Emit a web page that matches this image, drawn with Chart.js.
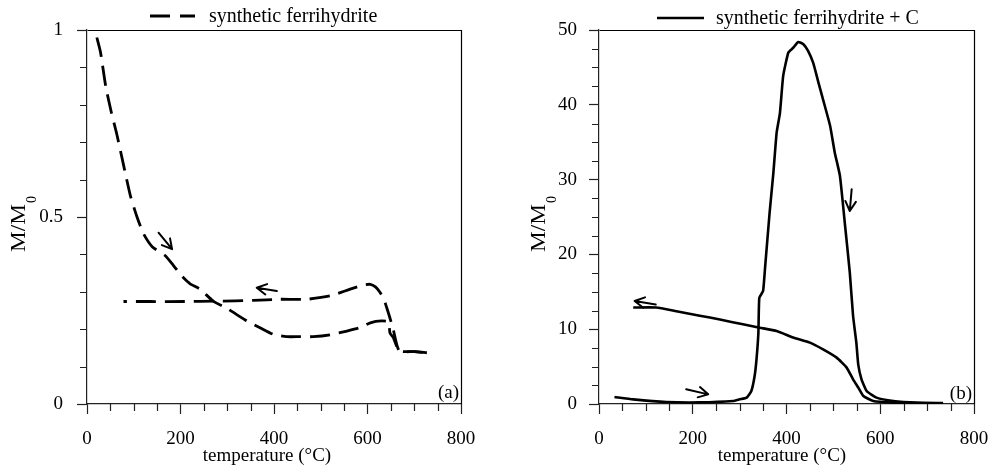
<!DOCTYPE html>
<html><head><meta charset="utf-8">
<script src="https://cdn.jsdelivr.net/npm/chart.js@4.4.1/dist/chart.umd.min.js"></script>
<style>
html,body{margin:0;padding:0;background:#fff;}
#wrap{position:relative;width:990px;height:474px;overflow:hidden;background:#fff;}
.panel{position:absolute;top:0;width:495px;height:474px;}
canvas{display:block;}
</style></head><body>
<div id="wrap">
<div class="panel" style="left:0"><canvas id="ca" width="495" height="474"></canvas></div>
<div class="panel" style="left:495px"><canvas id="cb" width="495" height="474"></canvas></div>
</div>
<script>
// ---------- data: panel (a) synthetic ferrihydrite ----------
const aHeatX = [21, 29, 40, 52, 64, 78, 93, 107, 121, 140, 167, 185, 203, 220, 242, 270, 300, 342, 370, 399, 427, 456, 484, 520, 556, 584, 606, 630, 645, 648, 655, 668, 700, 727];
const aHeatY = [0.98, 0.94, 0.85, 0.78, 0.72, 0.64, 0.556, 0.50, 0.455, 0.42, 0.397, 0.37, 0.342, 0.322, 0.307, 0.275, 0.255, 0.222, 0.204, 0.186, 0.18, 0.18, 0.18, 0.185, 0.195, 0.204, 0.217, 0.222, 0.219, 0.19, 0.178, 0.142, 0.14, 0.137];
const aCoolX = [727, 700, 668, 655, 648, 641, 635, 627, 617, 606, 590, 563, 520, 470, 413, 356, 278, 207, 135, 78];
const aCoolY = [0.137, 0.14, 0.142, 0.2, 0.23, 0.258, 0.28, 0.298, 0.313, 0.32, 0.318, 0.307, 0.289, 0.28, 0.28, 0.277, 0.275, 0.274, 0.274, 0.274];
const aArrowTailX = [153, 406];
const aArrowTailY = [0.458, 0.302];
const aArrowHeadX = [182, 363];
const aArrowHeadY = [0.414, 0.311];

// ---------- data: panel (b) synthetic ferrihydrite + C ----------
const bHeatX = [33, 73, 144, 215, 286, 300, 315, 325, 332, 336, 340, 342, 350, 354, 364, 372, 379, 386, 393, 404, 414, 425, 436, 446, 457, 468, 478, 493, 503, 514, 525, 535, 542, 549, 553, 560, 571, 592, 628, 678, 734];
const bHeatY = [0.94, 0.62, 0.27, 0.22, 0.4, 0.62, 0.85, 1.74, 3.74, 5.97, 9.5, 14.2, 15.1, 18, 25.6, 30.9, 36.3, 38.9, 43.9, 47, 47.6, 48.4, 48.1, 47.2, 45.6, 43, 40.7, 37.2, 33.6, 30.5, 23.8, 17.6, 11.8, 8.2, 5.3, 3.3, 1.74, 0.85, 0.4, 0.18, 0.13];
const bCoolX = [734, 678, 628, 585, 564, 553, 542, 528, 507, 478, 450, 414, 379, 343, 307, 258, 215, 165, 122, 73];
const bCoolY = [0.1, 0.1, 0.18, 0.4, 1.07, 2.2, 3.3, 4.9, 6.2, 7.3, 8.2, 8.9, 9.76, 10.2, 10.65, 11.3, 11.8, 12.4, 12.9, 12.9];
const bArrowTailX = [121, 186, 539];
const bArrowTailY = [13.3, 1.96, 28.7];
const bArrowHeadX = [76, 233, 535];
const bArrowHeadY = [13.77, 1.29, 25.8];

// ---------- axes / labels ----------
const xMin = 0, xMax = 800, xStep = 50, xLabelEvery = 200;
const aYMin = 0, aYMax = 1, aYStep = 0.1, aYLabelEvery = 0.5;
const bYMin = 0, bYMax = 50, bYStep = 2.5, bYLabelEvery = 10;
const xTitle = 'temperature (°C)';
const yTitleMain = 'M/M';
const yTitleSub = '0';
const aLegend = 'synthetic ferrihydrite';
const bLegend = 'synthetic ferrihydrite + C';
const aTag = '(a)';
const bTag = '(b)';

const FONT = '"Liberation Serif", "Times New Roman", serif';

function pts(xs, ys){ return xs.map((x,i)=>({x:x, y:ys[i]})); }
function isMult(v, m){ const r = v/m; return Math.abs(r - Math.round(r)) < 1e-6; }

function drawArrow(ctx, x1, y1, x2, y2){
  const a = Math.atan2(y2-y1, x2-x1), L = 11, w = 0.5;
  ctx.beginPath();
  ctx.moveTo(x1, y1); ctx.lineTo(x2, y2);
  ctx.moveTo(x2 - L*Math.cos(a-w), y2 - L*Math.sin(a-w));
  ctx.lineTo(x2, y2);
  ctx.lineTo(x2 - L*Math.cos(a+w), y2 - L*Math.sin(a+w));
  ctx.stroke();
}

const decor = {
  id: 'decor',
  afterDraw(chart){
    const o = chart.options.plugins.decor;
    const ctx = chart.ctx, ca = chart.chartArea;
    const xs = chart.scales.x, ys = chart.scales.y;
    ctx.save();
    // frame (top/right)
    ctx.strokeStyle = '#000'; ctx.lineWidth = 1.2;
    ctx.beginPath();
    ctx.moveTo(Math.round(ca.left)+0.5, Math.round(ca.top)+0.5);
    ctx.lineTo(Math.round(ca.right)+0.5, Math.round(ca.top)+0.5);
    ctx.lineTo(Math.round(ca.right)+0.5, Math.round(ca.bottom)+0.5);
    ctx.stroke();
    // minor ticks
    ctx.strokeStyle = '#222'; ctx.lineWidth = 1.2;
    ctx.beginPath();
    xs.ticks.forEach(t => {
      if (!isMult(t.value, o.xEvery)) {
        const px = Math.round(xs.getPixelForValue(t.value)) + 0.5;
        ctx.moveTo(px, ca.bottom); ctx.lineTo(px, ca.bottom + 7);
      }
    });
    ys.ticks.forEach(t => {
      if (!isMult(t.value, o.yEvery)) {
        const py = Math.round(ys.getPixelForValue(t.value)) + 0.5;
        ctx.moveTo(ca.left, py); ctx.lineTo(ca.left - 7, py);
      }
    });
    ctx.stroke();
    // arrows
    ctx.strokeStyle = '#000'; ctx.lineWidth = 2; ctx.lineCap = 'round'; ctx.lineJoin = 'round';
    o.arrows.tx.forEach((tx, i) => {
      drawArrow(ctx, xs.getPixelForValue(tx), ys.getPixelForValue(o.arrows.ty[i]),
                     xs.getPixelForValue(o.arrows.hx[i]), ys.getPixelForValue(o.arrows.hy[i]));
    });
    ctx.lineCap = 'butt';
    // legend
    ctx.lineWidth = o.legend.lw;
    ctx.setLineDash(o.legend.dash);
    ctx.beginPath(); ctx.moveTo(o.legend.x1, o.legend.ly); ctx.lineTo(o.legend.x2, o.legend.ly); ctx.stroke();
    ctx.setLineDash([]);
    ctx.fillStyle = '#000';
    ctx.font = '20px ' + FONT;
    ctx.textAlign = 'left'; ctx.textBaseline = 'alphabetic';
    ctx.fillText(o.legend.text, o.legend.tx, o.legend.tb);
    // panel tag
    ctx.font = '19px ' + FONT;
    ctx.textAlign = 'right';
    ctx.fillText(o.tag.text, o.tag.x, o.tag.y);
    // x title
    ctx.textAlign = 'center';
    ctx.fillText(xTitle, o.xt.x, o.xt.y);
    // y title (rotated, with subscript)
    ctx.save();
    ctx.translate(o.yt.x, o.yt.y);
    ctx.rotate(-Math.PI/2);
    ctx.font = '20px ' + FONT;
    ctx.textAlign = 'left';
    const w = ctx.measureText(yTitleMain).width;
    const sc = 48 / w;
    ctx.save(); ctx.scale(sc, 1); ctx.fillText(yTitleMain, 0, 0); ctx.restore();
    ctx.font = '14px ' + FONT;
    ctx.fillText(yTitleSub, w*sc + 1, 11);
    ctx.restore();
    ctx.restore();
  }
};

function makeChart(id, cfg){
  return new Chart(document.getElementById(id), {
    type: 'scatter',
    data: { datasets: cfg.datasets },
    options: {
      responsive: false, animation: false, devicePixelRatio: 1,
      layout: { padding: { top: 30, right: cfg.padRight, left: 0, bottom: 0 } },
      plugins: { legend: { display: false }, tooltip: { enabled: false }, decor: cfg.decor },
      scales: {
        x: {
          type: 'linear', min: xMin, max: xMax,
          afterFit: s => { s.height = 70; s.paddingLeft = 0; s.paddingRight = 0; },
          ticks: { stepSize: xStep, autoSkip: false, maxRotation: 0, padding: 14, color: '#000',
                   font: { family: FONT, size: 19 },
                   callback: v => isMult(v, xLabelEvery) ? String(Math.round(v)) : '' },
          grid: { drawOnChartArea: false, drawTicks: true, tickLength: 10, tickWidth: 1.2,
                  tickColor: c => (c.tick && isMult(c.tick.value, xLabelEvery)) ? '#222' : 'rgba(0,0,0,0)' },
          border: { color: '#222', width: 1.2 }
        },
        y: {
          type: 'linear', min: cfg.yMin, max: cfg.yMax,
          afterFit: s => { s.width = cfg.left; s.paddingTop = 0; s.paddingBottom = 0; },
          ticks: { stepSize: cfg.yStep, autoSkip: false, padding: cfg.yPad, color: '#000',
                   font: { family: FONT, size: 19 },
                   callback: v => isMult(v, cfg.yEvery) ? String(Math.round(v*10)/10) : '' },
          grid: { drawOnChartArea: false, drawTicks: true, tickLength: 10, tickWidth: 1.2,
                  tickColor: c => (c.tick && isMult(c.tick.value, cfg.yEvery)) ? '#222' : 'rgba(0,0,0,0)' },
          border: { color: '#222', width: 1.2 }
        }
      }
    },
    plugins: [decor]
  });
}

const dashStyle = { showLine: true, borderColor: '#000', borderWidth: 2.8, borderDash: [20, 9], pointRadius: 0, tension: 0.2, fill: false };
const solidStyle = { showLine: true, borderColor: '#000', borderWidth: 2.6, pointRadius: 0, tension: 0.15, fill: false, borderJoinStyle: 'round' };

makeChart('ca', {
  datasets: [
    Object.assign({ label: aLegend, data: pts(aHeatX, aHeatY) }, dashStyle),
    Object.assign({ label: aLegend + ' (cooling)', data: pts(aCoolX, aCoolY) }, dashStyle)
  ],
  padRight: 34, left: 87, yMin: aYMin, yMax: aYMax, yStep: aYStep, yEvery: aYLabelEvery, yPad: 14,
  decor: {
    xEvery: xLabelEvery, yEvery: aYLabelEvery,
    arrows: { tx: aArrowTailX, ty: aArrowTailY, hx: aArrowHeadX, hy: aArrowHeadY },
    legend: { x1: 150, x2: 195, ly: 16, lw: 2.8, dash: [20, 10], text: aLegend, tx: 209, tb: 22 },
    tag: { text: aTag, x: 459, y: 398 },
    xt: { x: 267, y: 461 },
    yt: { x: 25, y: 252 }
  }
});

makeChart('cb', {
  datasets: [
    Object.assign({ label: bLegend, data: pts(bHeatX, bHeatY) }, solidStyle),
    Object.assign({ label: bLegend + ' (cooling)', data: pts(bCoolX, bCoolY) }, solidStyle)
  ],
  padRight: 16, left: 104, yMin: bYMin, yMax: bYMax, yStep: bYStep, yEvery: bYLabelEvery, yPad: 12,
  decor: {
    xEvery: xLabelEvery, yEvery: bYLabelEvery,
    arrows: { tx: bArrowTailX, ty: bArrowTailY, hx: bArrowHeadX, hy: bArrowHeadY },
    legend: { x1: 162, x2: 209, ly: 18, lw: 2.6, dash: [], text: bLegend, tx: 221, tb: 24 },
    tag: { text: bTag, x: 477, y: 399 },
    xt: { x: 287, y: 461 },
    yt: { x: 50, y: 252 }
  }
});
</script>
</body></html>
